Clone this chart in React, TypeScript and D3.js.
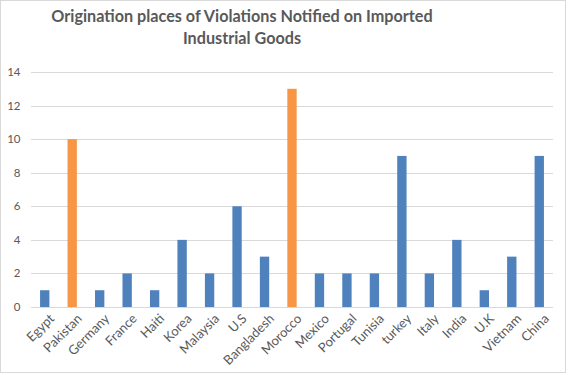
import React from "react";
import * as d3 from "d3";

const categories = ["Egypt","Pakistan","Germany","France","Haiti","Korea","Malaysia","U.S","Bangladesh","Morocco","Mexico","Portugal","Tunisia","turkey","Italy","India","U.K","Vietnam","China"];
const values = [1,10,1,2,1,4,2,6,3,13,2,2,2,9,2,4,1,3,9];
const highlighted = ["Pakistan","Morocco"];
const yTicks = [0,2,4,6,8,10,12,14];
const titleLines = ["Origination places of Violations Notified on Imported", "Industrial Goods"];

export default function App() {
  const W = 569, H = 375;
  const left = 31, right = 553, top = 72, bottom = 307;
  const x = d3.scaleBand<string>().domain(categories).range([left, right]).paddingInner(0.66).paddingOuter(0.33);
  const y = d3.scaleLinear().domain([0, 14]).range([bottom, top]);
  const font = "Lato, 'Open Sans', sans-serif";
  return (
    <svg width={W} height={H} style={{ position: "absolute", left: 0, top: 0, background: "#fff" }}>
      <rect x={0.5} y={0.5} width={565} height={372} fill="#fff" stroke="#d9d9d9" />
      {titleLines.map((t, i) => (
        <text key={i} x={242} y={22 + i * 22} textAnchor="middle" fontFamily={font} fontWeight="bold" fontSize={16.2} fill="#595959">{t}</text>
      ))}
      {yTicks.map(t => (
        <g key={t}>
          <line x1={left} x2={right} y1={Math.round(y(t)) + 0.5} y2={Math.round(y(t)) + 0.5} stroke="#d9d9d9" />
          <text x={20.5} y={y(t)} dy="0.35em" textAnchor="end" fontFamily={font} fontSize={11.5} fill="#595959">{t}</text>
        </g>
      ))}
      {categories.map((c, i) => (
        <rect key={c} x={x(c)} y={y(values[i])} width={x.bandwidth()} height={y(0) - y(values[i])} fill={highlighted.includes(c) ? "#F79646" : "#4F81BD"} />
      ))}
      {categories.map(c => {
        const cx = (x(c) as number) + x.bandwidth() / 2 + 4;
        return (
          <text key={c} transform={`translate(${cx},${313}) rotate(-45)`} textAnchor="end" dy="0.7em" fontFamily={font} fontSize={13} fill="#595959">{c}</text>
        );
      })}
    </svg>
  );
}
